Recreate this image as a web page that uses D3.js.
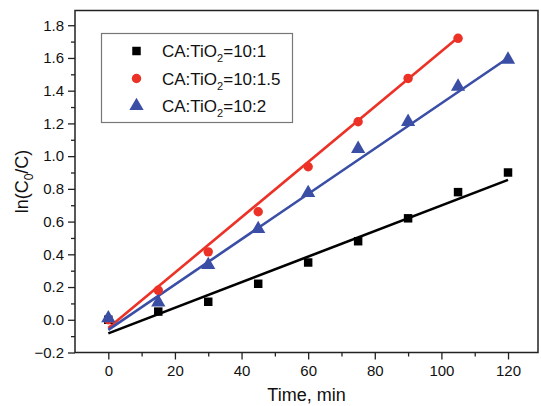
<!DOCTYPE html>
<html>
<head>
<meta charset="utf-8">
<script src="https://cdn.jsdelivr.net/npm/d3@7"></script>
<style>
  body { margin: 0; background: #fff; }
  svg { display: block; font-family: "Liberation Sans", Arial, sans-serif; }
</style>
</head>
<body>
<svg id="chart" width="541" height="406"></svg>
<script>
// time points, min
const times = [0, 15, 30, 45, 60, 75, 90, 105, 120];

// ln(C0/C)
const ratio1 = [0.0, 0.05, 0.11, 0.22, 0.35, 0.48, 0.62, 0.78, 0.90];
const ratio15 = [0.0, 0.18, 0.415, 0.66, 0.935, 1.21, 1.475, 1.72];
const ratio2 = [0.01, 0.107, 0.335, 0.555, 0.775, 1.045, 1.21, 1.425, 1.59];

// fitted lines, [start, end] in data units
const fit1 = [[0, -0.083], [120, 0.855]];
const fit15 = [[0, -0.05], [105, 1.725]];
const fit2 = [[0, -0.062], [120, 1.6]];

const xTicks = [0, 20, 40, 60, 80, 100, 120];
const xMinor = [10, 30, 50, 70, 90, 110];
const yTicks = [-0.2, 0, 0.2, 0.4, 0.6, 0.8, 1.0, 1.2, 1.4, 1.6, 1.8];
const yMinor = [-0.1, 0.1, 0.3, 0.5, 0.7, 0.9, 1.1, 1.3, 1.5, 1.7];

const col = { black: "#000000", red: "#ec3226", blue: "#3a4ea6" };

const series = [
  { label: "10:1", values: ratio1, fit: fit1, color: col.black, shape: "square" },
  { label: "10:1.5", values: ratio15, fit: fit15, color: col.red, shape: "circle" },
  { label: "10:2", values: ratio2, fit: fit2, color: col.blue, shape: "triangle" },
];

const svg = d3.select("#chart");
const plot = { left: 75, right: 538, top: 10.5, bottom: 352.5 };

const x = d3.scaleLinear().domain([-10, 129]).range([plot.left, plot.right]);
const y = d3.scaleLinear().domain([-0.2, 1.89]).range([plot.bottom, plot.top]);

// axes (major + minor ticks)
svg.append("g")
  .attr("transform", `translate(0,${plot.bottom})`)
  .call(d3.axisBottom(x).tickValues(xTicks).tickSize(7).tickSizeOuter(0).tickPadding(6).tickFormat(d3.format("d")));
svg.append("g")
  .attr("transform", `translate(0,${plot.bottom})`)
  .call(d3.axisBottom(x).tickValues(xMinor).tickSize(4).tickSizeOuter(0).tickFormat(""));

svg.append("g")
  .attr("transform", `translate(${plot.left},0)`)
  .call(d3.axisLeft(y).tickValues(yTicks).tickSize(7).tickSizeOuter(0).tickPadding(4).tickFormat(d3.format(".1f")));
svg.append("g")
  .attr("transform", `translate(${plot.left},0)`)
  .call(d3.axisLeft(y).tickValues(yMinor).tickSize(4).tickSizeOuter(0).tickFormat(""));

svg.selectAll(".domain").remove();
svg.selectAll(".tick line").attr("stroke", "#222").attr("stroke-width", 1.3);
svg.selectAll(".tick text").attr("fill", "#111").style("font-size", "15px");

// frame
svg.append("rect")
  .attr("x", plot.left)
  .attr("y", plot.top)
  .attr("width", plot.right - plot.left)
  .attr("height", plot.bottom - plot.top)
  .attr("fill", "none")
  .attr("stroke", "#222")
  .attr("stroke-width", 1.5);

// axis titles
svg.append("text")
  .attr("x", (plot.left + plot.right) / 2)
  .attr("y", 401)
  .attr("text-anchor", "middle")
  .style("font-size", "18px")
  .attr("fill", "#111")
  .text("Time, min");

const yTitle = svg.append("text")
  .attr("transform", `translate(28,${(plot.top + plot.bottom) / 2}) rotate(-90)`)
  .attr("text-anchor", "middle")
  .style("font-size", "18px")
  .attr("fill", "#111");
yTitle.append("tspan").text("ln(C");
yTitle.append("tspan").attr("dy", 5).style("font-size", "12px").text("0");
yTitle.append("tspan").attr("dy", -5).text("/C)");

// fit lines
const line = d3.line().x((d) => x(d[0])).y((d) => y(d[1]));
series.forEach((s) => {
  svg.append("path")
    .attr("d", line(s.fit))
    .attr("fill", "none")
    .attr("stroke", s.color)
    .attr("stroke-width", 2.6);
});

const symbolFor = {
  square: d3.symbol().type(d3.symbolSquare).size(72),
  circle: d3.symbol().type(d3.symbolCircle).size(70),
  triangle: d3.symbol().type(d3.symbolTriangle).size(88),
};

// markers
series.forEach((s) => {
  svg.append("g")
    .selectAll("path")
    .data(s.values)
    .join("path")
    .attr("transform", (d, i) => `translate(${x(times[i])},${y(d)})`)
    .attr("d", symbolFor[s.shape]())
    .attr("fill", s.color);
});

// legend
const legend = svg.append("g");
legend.append("rect")
  .attr("x", 101.5)
  .attr("y", 33.5)
  .attr("width", 191)
  .attr("height", 89)
  .attr("fill", "#fff")
  .attr("stroke", "#777")
  .attr("stroke-width", 1.2);

series.forEach((s, i) => {
  const ly = 51 + i * 27.5;
  legend.append("path")
    .attr("transform", `translate(136.5,${ly})`)
    .attr("d", symbolFor[s.shape]())
    .attr("fill", s.color);
  const t = legend.append("text")
    .attr("x", 162)
    .attr("y", ly + 6)
    .style("font-size", "17px")
    .attr("fill", "#111");
  t.append("tspan").text("CA:TiO");
  t.append("tspan").attr("dy", 5).style("font-size", "11px").text("2");
  t.append("tspan").attr("dy", -5).text("=" + s.label);
});
</script>
</body>
</html>
